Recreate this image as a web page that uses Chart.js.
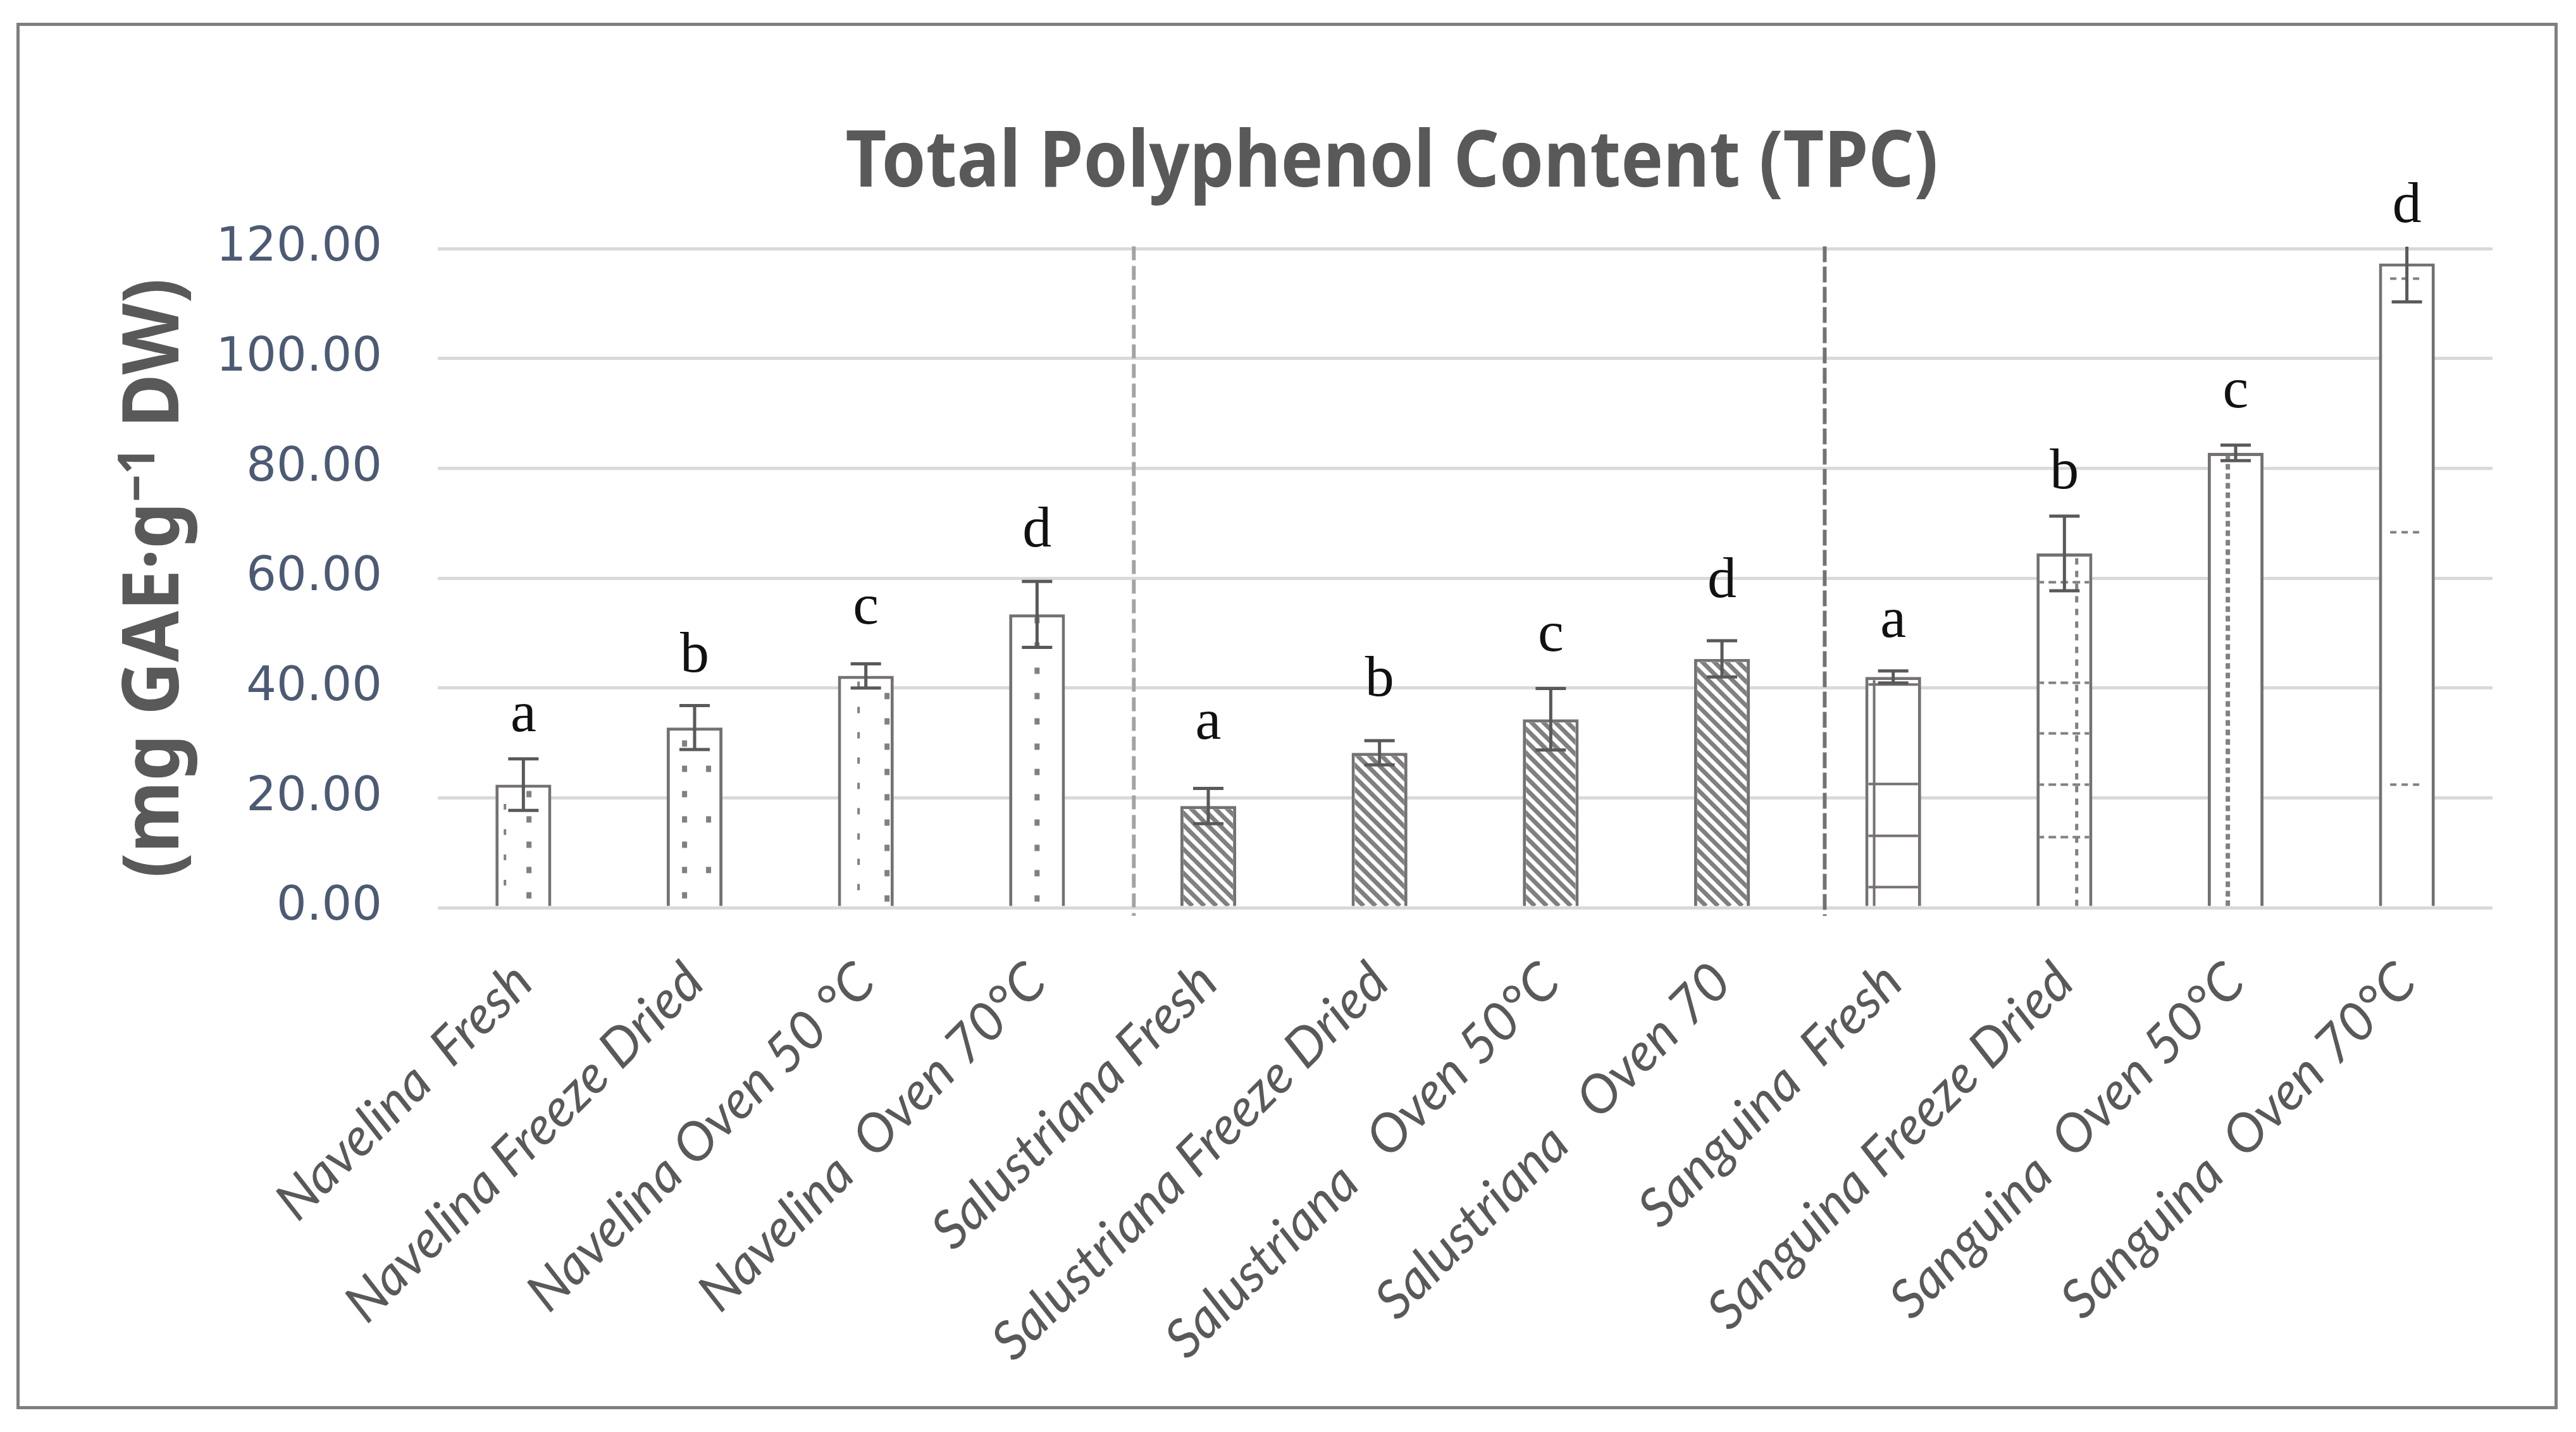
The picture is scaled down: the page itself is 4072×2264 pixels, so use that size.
<!DOCTYPE html>
<html>
<head>
<meta charset="utf-8">
<script src="https://cdn.jsdelivr.net/npm/chart.js@4.4.1/dist/chart.umd.min.js"></script>
<style>
  html, body { margin: 0; padding: 0; background: #fff; }
  body { width: 4072px; height: 2264px; position: relative; overflow: hidden; }
  #frame { position: absolute; left: 26px; top: 36px; width: 4017px; height: 2192px;
           border: 5px solid #7f7f7f; box-sizing: border-box; background: #fff; }
  #chart { display: block; }
</style>
</head>
<body>
<div id="frame"><canvas id="chart" width="4007" height="2182"></canvas></div>
<script>
// TPC by cultivar and drying treatment
const categories = [
    'Navelina  Fresh', 'Navelina Freeze Dried', 'Navelina Oven 50 °C', 'Navelina  Oven 70°C',
    'Salustriana Fresh', 'Salustriana Freeze Dried', 'Salustriana   Oven 50°C', 'Salustriana   Oven 70',
    'Sanguina  Fresh', 'Sanguina Freeze Dried', 'Sanguina  Oven 50°C', 'Sanguina  Oven 70°C'
];
const tpcValues = [22.4, 32.8, 42.2, 53.4, 18.5, 28.2, 34.3, 45.3, 42.0, 64.5, 82.8, 117.3];
const tpcErrors = [4.7, 4.0, 2.2, 6.0, 3.2, 2.2, 5.6, 3.3, 1.1, 6.8, 1.4, 7.0];
const groupLetters = ['a', 'b', 'c', 'd', 'a', 'b', 'c', 'd', 'a', 'b', 'c', 'd'];
// baseline of each letter, in axis units
const letterLevels = [32.1, 43.0, 51.7, 65.8, 30.7, 38.6, 46.7, 56.5, 49.3, 76.4, 91.1, 124.8];
const yMin = 0, yMax = 120, yStep = 20;
// dashed separators between cultivars, in category units
const groupBreaks = [3.565, 7.6];

const chartTitle = 'Total Polyphenol Content (TPC)';
const yTitleParts = ['(mg GAE·g', '−1', ' DW)'];

// fill pattern used inside each bar
const barFills = ['dotsA', 'dotsB', 'dotsC', 'dotsD', 'hatch', 'hatch', 'hatch', 'hatch',
                  'grid', 'dashes', 'dotline', 'sparse'];

function fillBar(ctx, kind, L, R, T, B) {
    const w = R - L;
    ctx.fillStyle = '#808080';
    ctx.strokeStyle = '#808080';
    const dotCol = (fx, step, off, dw, dh) => {
        for (let yy = B - off; yy > T; yy -= step) {
            ctx.fillRect(L + fx * w - dw / 2, yy - dh / 2, dw, dh);
        }
    };
    const hLine = (h, x0, x1, dash, lw) => {
        ctx.setLineDash(dash); ctx.lineWidth = lw;
        ctx.beginPath(); ctx.moveTo(L + x0 * w, B - h); ctx.lineTo(L + x1 * w, B - h); ctx.stroke();
    };
    const vLine = (fx, dash, lw) => {
        ctx.setLineDash(dash); ctx.lineWidth = lw;
        ctx.beginPath(); ctx.moveTo(L + fx * w, B); ctx.lineTo(L + fx * w, T); ctx.stroke();
    };
    if (kind === 'dotsA') {
        dotCol(0.6, 40, 17, 8, 10);
        dotCol(0.17, 40, 37, 4, 9);
    } else if (kind === 'dotsB') {
        dotCol(0.32, 40, 17, 8, 10);
        dotCol(0.75, 80, 57, 8, 10);
    } else if (kind === 'dotsC') {
        dotCol(0.37, 40, 30, 4, 10);
        dotCol(0.88, 40, 12, 8, 10);
    } else if (kind === 'dotsD') {
        dotCol(0.5, 40, 12, 8, 10);
    } else if (kind === 'hatch') {
        const H = B - T, p = 19;
        ctx.setLineDash([]); ctx.lineWidth = 7;
        ctx.beginPath();
        for (let s = -H - p; s < w + p; s += p) {
            ctx.moveTo(L + s, T); ctx.lineTo(L + s + H, B);
        }
        ctx.stroke();
    } else if (kind === 'grid') {
        ctx.strokeStyle = '#767171';
        vLine(14 / w, [], 4);
        [30, 111, 193].forEach(h => hLine(h, 0, 1, [], 4));
        hLine(B - T - 12, 0, 1, [], 4);
    } else if (kind === 'dashes') {
        [109, 192, 273, 353, 512].forEach(h => hLine(h, 0, 1, [12, 7], 4));
        vLine(0.72, [10, 10], 5);
    } else if (kind === 'dotline') {
        vLine(0.36, [9, 6], 7);
    } else if (kind === 'sparse') {
        [192, 591, 992].forEach(h => hLine(h, 0.2, 0.8, [10, 8], 4));
    }
    ctx.setLineDash([]);
}

function drawSquashed(ctx, parts, cx, cy, angle, targetW, font, supFont) {
    ctx.save();
    const widths = parts.map((t, k) => { ctx.font = k === 1 ? supFont : font; return ctx.measureText(t).width; });
    const total = widths.reduce((a, b) => a + b, 0);
    ctx.translate(cx, cy);
    ctx.rotate(angle);
    ctx.scale(targetW / total, 1);
    ctx.fillStyle = '#595959';
    ctx.textBaseline = 'middle';
    ctx.textAlign = 'left';
    let x = -total / 2;
    parts.forEach((t, k) => {
        ctx.font = k === 1 ? supFont : font;
        ctx.fillText(t, x, k === 1 ? -26 : 0);
        x += widths[k];
    });
    ctx.restore();
}

const decorPlugin = {
    id: 'decor',
    afterDatasetsDraw(chart) {
        const { ctx, chartArea, scales: { x, y } } = chart;
        const bars = chart.getDatasetMeta(0).data;

        // pattern fills
        bars.forEach((bar, i) => {
            const L = bar.x - bar.width / 2, R = bar.x + bar.width / 2, T = bar.y, B = bar.base;
            ctx.save();
            ctx.beginPath();
            ctx.rect(L + 5, T + 5, R - L - 10, B - T - 5);
            ctx.clip();
            fillBar(ctx, barFills[i], L, R, T, B);
            ctx.restore();
        });

        // cultivar separators
        ctx.save();
        groupBreaks.forEach((g, k) => {
            const px = x.getPixelForValue(g);
            ctx.strokeStyle = k === 0 ? '#a3a3a3' : '#767171';
            ctx.lineWidth = 6;
            ctx.setLineDash(k === 0 ? [22, 9] : [25, 7]);
            ctx.beginPath();
            ctx.moveTo(px, y.getPixelForValue(120.4));
            ctx.lineTo(px, y.getPixelForValue(-1.5));
            ctx.stroke();
        });
        ctx.restore();

        // error bars, clipped at the plot area like the original
        ctx.save();
        ctx.beginPath();
        ctx.rect(chartArea.left, chartArea.top - 3, chartArea.width, chartArea.height + 3);
        ctx.clip();
        ctx.strokeStyle = '#595959';
        ctx.lineWidth = 5;
        bars.forEach((bar, i) => {
            const hi = y.getPixelForValue(tpcValues[i] + tpcErrors[i]);
            const lo = y.getPixelForValue(tpcValues[i] - tpcErrors[i]);
            ctx.beginPath();
            ctx.moveTo(bar.x, hi); ctx.lineTo(bar.x, lo);
            ctx.moveTo(bar.x - 24, hi); ctx.lineTo(bar.x + 24, hi);
            ctx.moveTo(bar.x - 24, lo); ctx.lineTo(bar.x + 24, lo);
            ctx.stroke();
        });
        ctx.restore();

        // significance letters
        ctx.save();
        ctx.fillStyle = '#111111';
        ctx.font = '92px "Liberation Serif"';
        ctx.textAlign = 'center';
        ctx.textBaseline = 'alphabetic';
        bars.forEach((bar, i) => {
            ctx.fillText(groupLetters[i], bar.x, y.getPixelForValue(letterLevels[i]));
        });
        ctx.restore();
    },
    afterDraw(chart) {
        const ctx = chart.ctx;
        drawSquashed(ctx, [chartTitle], 2169, 219, 0, 1727, 'bold 123px "Noto Sans"');
        drawSquashed(ctx, yTitleParts, 216, 873, -Math.PI / 2, 948,
                     'bold 123px "Noto Sans"', 'bold 80px "Noto Sans"');
    }
};

const ctx = document.getElementById('chart').getContext('2d');
new Chart(ctx, {
    type: 'bar',
    data: {
        labels: categories,
        datasets: [{
            data: tpcValues,
            backgroundColor: '#ffffff',
            borderColor: '#767171',
            borderWidth: 5,
            barPercentage: 0.326,
            categoryPercentage: 1
        }]
    },
    options: {
        responsive: false,
        animation: false,
        devicePixelRatio: 1,
        layout: { padding: { top: 352, right: 98, bottom: 0, left: 0 } },
        plugins: {
            legend: { display: false },
            tooltip: { enabled: false }
        },
        scales: {
            x: {
                grid: { display: false },
                border: { display: false },
                ticks: {
                    autoSkip: false,
                    minRotation: 45,
                    maxRotation: 45,
                    padding: 60,
                    color: '#595959',
                    font: { family: 'Lato', style: 'italic', size: 84 }
                },
                afterFit: s => { s.height = 788; }
            },
            y: {
                min: yMin,
                max: yMax,
                ticks: {
                    stepSize: yStep,
                    padding: 88,
                    color: '#4d5a73',
                    font: { family: 'DejaVu Sans', size: 75 },
                    callback: v => v.toFixed(2)
                },
                grid: { color: '#d9d9d9', lineWidth: 5, drawTicks: false },
                border: { display: false },
                afterFit: s => { s.width = 661; }
            }
        }
    },
    plugins: [decorPlugin]
});
</script>
</body>
</html>
